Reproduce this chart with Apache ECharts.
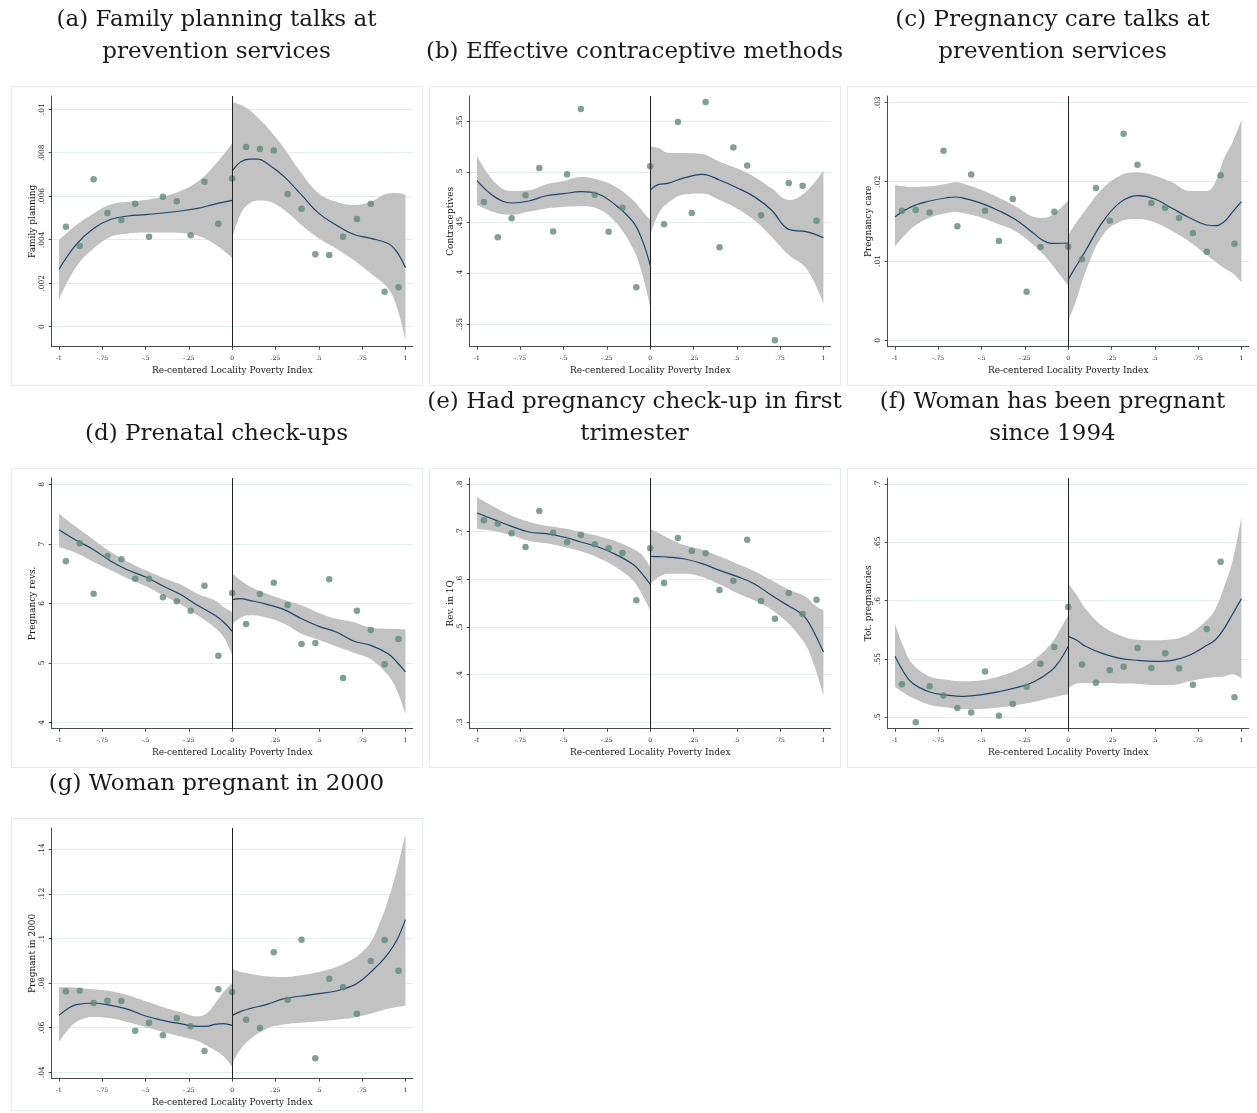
<!DOCTYPE html>
<html>
<head>
<meta charset="utf-8">
<script src="https://cdn.jsdelivr.net/npm/echarts@6/dist/echarts.min.js"></script>
<style>
  html, body { margin: 0; padding: 0; background: #ffffff; }
  #chart { width: 1257px; height: 1113px; }
</style>
</head>
<body>
<div id="chart"></div>
<script>
// ---- Shared x values -------------------------------------------------------
// centres of the locality bins (scatter)
const binX = [-0.96, -0.88, -0.80, -0.72, -0.64, -0.56, -0.48, -0.40, -0.32, -0.24, -0.16, -0.08,
  0, 0.08, 0.16, 0.24, 0.32, 0.40, 0.48, 0.56, 0.64, 0.72, 0.80, 0.88, 0.96];
const xTicks = [-1, -0.75, -0.5, -0.25, 0, 0.25, 0.5, 0.75, 1];
const xTitle = 'Re-centered Locality Poverty Index';

// ---- (a) Family planning ----------------------------------------------------
const aDots = [0.00460, 0.00371, 0.00678, 0.00523, 0.00491, 0.00566, 0.00414, 0.00598, 0.00577, 0.00420, 0.00667, 0.00474,
  0.00681, 0.00827, 0.00817, 0.00810, 0.00610, 0.00543, 0.00333, 0.00330, 0.00414, 0.00495, 0.00566, 0.00161, 0.00181];
const aLeftX = [-1, -0.9, -0.8, -0.7, -0.6, -0.5, -0.4, -0.3, -0.2, -0.1, 0];
const aLeftFit = [0.00264, 0.00379, 0.00452, 0.00494, 0.00509, 0.00515, 0.00523, 0.00532, 0.00544, 0.00564, 0.00581];
const aLeftLo = [0.00127, 0.00276, 0.00360, 0.00414, 0.00429, 0.00433, 0.00433, 0.00431, 0.00419, 0.00379, 0.00317];
const aLeftHi = [0.00399, 0.00468, 0.00521, 0.00563, 0.00575, 0.00583, 0.00598, 0.00624, 0.00667, 0.00744, 0.00844];
const aRightX = [0, 0.05, 0.1, 0.15, 0.2, 0.3, 0.4, 0.5, 0.6, 0.7, 0.8, 0.9, 0.95, 1];
const aRightFit = [0.00716, 0.00759, 0.00771, 0.00771, 0.00752, 0.00690, 0.00606, 0.00521, 0.00468, 0.00425, 0.00406, 0.00383, 0.00345, 0.00271];
const aRightLo = [0.00406, 0.00521, 0.00567, 0.00580, 0.00578, 0.00537, 0.00468, 0.00406, 0.00360, 0.00307, 0.00245, 0.00176, 0.00092, -0.00061];
const aRightHi = [0.01032, 0.01020, 0.00997, 0.00960, 0.00920, 0.00821, 0.00706, 0.00613, 0.00575, 0.00560, 0.00575, 0.00613, 0.00615, 0.00606];
const aTicks = [0, 0.002, 0.004, 0.006, 0.008, 0.01];

// ---- (b) Contraceptives -----------------------------------------------------
const bDots = [0.4704, 0.4355, 0.4543, 0.4770, 0.5039, 0.4414, 0.4977, 0.5622, 0.4776, 0.4411, 0.4648, 0.3862,
  0.5056, 0.4484, 0.5493, 0.4595, 0.5691, 0.4257, 0.5243, 0.5063, 0.4572, 0.3339, 0.4891, 0.4865, 0.4520];
const bLeftX = [-1, -0.9, -0.8, -0.7, -0.6, -0.5, -0.4, -0.3, -0.2, -0.1, -0.05, 0];
const bLeftFit = [0.4914, 0.4757, 0.4694, 0.4714, 0.4766, 0.4786, 0.4806, 0.4783, 0.4674, 0.4510, 0.4345, 0.4082];
const bLeftLo = [0.4674, 0.4602, 0.4576, 0.4609, 0.4641, 0.4655, 0.4661, 0.4635, 0.4503, 0.4247, 0.4016, 0.3671];
const bLeftHi = [0.5161, 0.4905, 0.4812, 0.4819, 0.4878, 0.4911, 0.4951, 0.4924, 0.4855, 0.4724, 0.4625, 0.4526];
const bRightX = [0, 0.05, 0.1, 0.2, 0.3, 0.4, 0.5, 0.6, 0.7, 0.8, 0.9, 1];
const bRightFit = [0.4822, 0.4878, 0.4888, 0.4944, 0.4977, 0.4921, 0.4845, 0.4757, 0.4625, 0.4434, 0.4411, 0.4352];
const bRightLo = [0.4378, 0.4592, 0.4691, 0.4780, 0.4789, 0.4724, 0.4641, 0.4526, 0.4362, 0.4181, 0.4049, 0.3704];
const bRightHi = [0.5257, 0.5234, 0.5191, 0.5188, 0.5178, 0.5102, 0.5036, 0.4954, 0.4839, 0.4724, 0.4806, 0.5020];
const bTicks = [0.35, 0.4, 0.45, 0.5, 0.55];

// ---- (c) Pregnancy care -----------------------------------------------------
const cDots = [0.01634, 0.01643, 0.01613, 0.02391, 0.01437, 0.02092, 0.01634, 0.01252, 0.01782, 0.00613, 0.01176, 0.01622,
  0.01181, 0.01021, 0.01920, 0.01508, 0.02605, 0.02214, 0.01731, 0.01672, 0.01542, 0.01353, 0.01118, 0.02080, 0.01218];
const cLeftX = [-1, -0.9, -0.8, -0.7, -0.65, -0.6, -0.5, -0.4, -0.3, -0.2, -0.15, -0.1, 0];
const cLeftFit = [0.01559, 0.01689, 0.01756, 0.01798, 0.01807, 0.01790, 0.01727, 0.01634, 0.01517, 0.01349, 0.01265, 0.01223, 0.01227];
const cLeftLo = [0.01181, 0.01420, 0.01546, 0.01605, 0.01618, 0.01601, 0.01546, 0.01462, 0.01370, 0.01202, 0.01097, 0.00971, 0.00689];
const cLeftHi = [0.01958, 0.01933, 0.01941, 0.01975, 0.01992, 0.01971, 0.01895, 0.01798, 0.01685, 0.01559, 0.01546, 0.01571, 0.01761];
const cRightX = [0, 0.05, 0.1, 0.2, 0.3, 0.4, 0.5, 0.6, 0.7, 0.8, 0.85, 0.9, 0.95, 1];
const cRightFit = [0.00769, 0.00950, 0.01130, 0.01496, 0.01739, 0.01824, 0.01782, 0.01664, 0.01546, 0.01454, 0.01445, 0.01496, 0.01622, 0.01748];
const cRightLo = [0.00244, 0.00529, 0.00866, 0.01328, 0.01496, 0.01529, 0.01487, 0.01378, 0.01244, 0.01076, 0.00990, 0.00908, 0.00845, 0.00731];
const cRightHi = [0.01328, 0.01496, 0.01643, 0.01916, 0.02076, 0.02118, 0.02076, 0.01992, 0.01882, 0.01882, 0.02000, 0.02294, 0.02504, 0.02777];
const cTicks = [0, 0.01, 0.02, 0.03];

// ---- (d) Prenatal check-ups -------------------------------------------------
const dDots = [6.706, 7.008, 6.162, 6.796, 6.739, 6.415, 6.415, 6.101, 6.034, 5.877, 6.297, 5.120,
  6.174, 5.653, 6.157, 6.347, 5.972, 5.317, 5.333, 6.403, 4.745, 5.877, 5.552, 4.975, 5.401];
const dLeftX = [-1, -0.9, -0.8, -0.7, -0.6, -0.5, -0.4, -0.3, -0.2, -0.1, -0.05, 0];
const dLeftFit = [7.238, 7.059, 6.902, 6.706, 6.555, 6.443, 6.291, 6.151, 5.966, 5.798, 5.686, 5.529];
const dLeftLo = [6.947, 6.846, 6.695, 6.555, 6.415, 6.291, 6.134, 5.983, 5.798, 5.591, 5.434, 5.126];
const dLeftHi = [7.507, 7.283, 7.070, 6.863, 6.695, 6.555, 6.431, 6.319, 6.162, 6.050, 5.938, 5.854];
const dRightX = [0, 0.05, 0.1, 0.2, 0.3, 0.4, 0.5, 0.6, 0.7, 0.8, 0.9, 0.95, 1];
const dRightFit = [6.062, 6.078, 6.050, 5.983, 5.894, 5.742, 5.613, 5.518, 5.367, 5.294, 5.154, 5.014, 4.846];
const dRightLo = [5.658, 5.759, 5.798, 5.759, 5.658, 5.490, 5.389, 5.277, 5.171, 5.059, 4.790, 4.538, 4.146];
const dRightHi = [6.499, 6.387, 6.286, 6.162, 6.062, 5.966, 5.838, 5.742, 5.686, 5.591, 5.574, 5.569, 5.563];
const dTicks = [4, 5, 6, 7, 8];

// ---- (e) First-trimester check-up -------------------------------------------
const eDots = [0.7239, 0.7169, 0.6966, 0.6679, 0.7436, 0.6980, 0.6777, 0.6931, 0.6735, 0.6651, 0.6553, 0.5559,
  0.6651, 0.5923, 0.6868, 0.6595, 0.6546, 0.5776, 0.5972, 0.6833, 0.5545, 0.5174, 0.5713, 0.5272, 0.5573];
const eLeftX = [-1, -0.9, -0.8, -0.7, -0.6, -0.5, -0.4, -0.3, -0.2, -0.1, -0.05, 0];
const eLeftFit = [0.7394, 0.7254, 0.7113, 0.6994, 0.6959, 0.6889, 0.6784, 0.6679, 0.6525, 0.6315, 0.6133, 0.5895];
const eLeftLo = [0.7064, 0.7015, 0.6924, 0.6805, 0.6756, 0.6679, 0.6588, 0.6455, 0.6259, 0.5979, 0.5699, 0.5349];
const eLeftHi = [0.7730, 0.7520, 0.7338, 0.7211, 0.7127, 0.7071, 0.6994, 0.6910, 0.6798, 0.6644, 0.6525, 0.6259];
const eRightX = [0, 0.05, 0.1, 0.2, 0.3, 0.4, 0.5, 0.6, 0.7, 0.8, 0.85, 0.9, 0.95, 1];
const eRightFit = [0.6483, 0.6476, 0.6469, 0.6427, 0.6329, 0.6189, 0.6063, 0.5909, 0.5664, 0.5440, 0.5335, 0.5174, 0.4859, 0.4473];
const eRightLo = [0.5895, 0.6049, 0.6119, 0.6119, 0.6049, 0.5895, 0.5713, 0.5559, 0.5363, 0.5069, 0.4859, 0.4613, 0.4158, 0.3563];
const eRightHi = [0.7064, 0.6973, 0.6875, 0.6714, 0.6623, 0.6483, 0.6329, 0.6175, 0.5979, 0.5783, 0.5713, 0.5629, 0.5454, 0.5349];
const eTicks = [0.3, 0.4, 0.5, 0.6, 0.7, 0.8];

// ---- (f) Pregnant since 1994 ------------------------------------------------
const fDots = [0.5282, 0.4956, 0.5265, 0.5185, 0.5079, 0.5039, 0.5391, 0.5013, 0.5113, 0.5262, 0.5459, 0.5602,
  0.5946, 0.5453, 0.5296, 0.5402, 0.5433, 0.5594, 0.5422, 0.5548, 0.5419, 0.5279, 0.5757, 0.6335, 0.5170];
const fLeftX = [-1, -0.95, -0.9, -0.8, -0.7, -0.6, -0.5, -0.4, -0.3, -0.2, -0.1, -0.05, 0];
const fLeftFit = [0.5522, 0.5388, 0.5293, 0.5216, 0.5190, 0.5179, 0.5193, 0.5219, 0.5253, 0.5302, 0.5396, 0.5482, 0.5608];
const fLeftLo = [0.5259, 0.5210, 0.5167, 0.5107, 0.5082, 0.5067, 0.5070, 0.5082, 0.5104, 0.5130, 0.5167, 0.5182, 0.5196];
const fLeftHi = [0.5803, 0.5602, 0.5459, 0.5350, 0.5322, 0.5308, 0.5316, 0.5350, 0.5402, 0.5488, 0.5631, 0.5745, 0.5874];
const fRightX = [0, 0.05, 0.1, 0.2, 0.3, 0.4, 0.5, 0.6, 0.7, 0.8, 0.85, 0.9, 0.95, 1];
const fRightFit = [0.5694, 0.5660, 0.5608, 0.5545, 0.5505, 0.5488, 0.5479, 0.5488, 0.5531, 0.5617, 0.5665, 0.5760, 0.5888, 0.6017];
const fRightLo = [0.5245, 0.5288, 0.5293, 0.5293, 0.5288, 0.5285, 0.5276, 0.5276, 0.5308, 0.5336, 0.5345, 0.5350, 0.5368, 0.5330];
const fRightHi = [0.6152, 0.6046, 0.5931, 0.5780, 0.5702, 0.5665, 0.5660, 0.5668, 0.5717, 0.5831, 0.5931, 0.6117, 0.6346, 0.6718];
const fTicks = [0.5, 0.55, 0.6, 0.65, 0.7];

// ---- (g) Pregnant in 2000 ---------------------------------------------------
const gDots = [0.07626, 0.07656, 0.07103, 0.07208, 0.07193, 0.05862, 0.06221, 0.05653, 0.06416, 0.06057, 0.04951, 0.07716,
  0.07596, 0.06356, 0.05982, 0.09375, 0.07253, 0.09943, 0.04622, 0.08194, 0.07806, 0.06625, 0.08987, 0.09928, 0.08553];
const gLeftX = [-1, -0.95, -0.9, -0.8, -0.7, -0.6, -0.5, -0.4, -0.3, -0.2, -0.15, -0.1, -0.05, 0];
const gLeftFit = [0.06550, 0.06849, 0.07028, 0.07103, 0.06999, 0.06819, 0.06520, 0.06326, 0.06176, 0.06057, 0.06057, 0.06146, 0.06176, 0.06102];
const gLeftLo = [0.05354, 0.05877, 0.06251, 0.06475, 0.06416, 0.06236, 0.06027, 0.05803, 0.05608, 0.05399, 0.05205, 0.04981, 0.04711, 0.04233];
const gLeftHi = [0.07821, 0.07806, 0.07791, 0.07716, 0.07626, 0.07447, 0.07178, 0.06924, 0.06700, 0.06505, 0.06625, 0.07073, 0.07596, 0.08000];
const gRightX = [0, 0.05, 0.1, 0.2, 0.3, 0.4, 0.5, 0.6, 0.7, 0.75, 0.8, 0.85, 0.9, 0.95, 1];
const gRightFit = [0.06550, 0.06729, 0.06849, 0.07043, 0.07297, 0.07417, 0.07522, 0.07641, 0.07895, 0.08149, 0.08493, 0.08867, 0.09315, 0.09913, 0.10840];
const gRightLo = [0.04383, 0.05055, 0.05459, 0.05952, 0.06146, 0.06221, 0.06281, 0.06356, 0.06445, 0.06535, 0.06625, 0.06744, 0.06849, 0.06924, 0.06984];
const gRightHi = [0.08643, 0.08493, 0.08419, 0.08299, 0.08269, 0.08344, 0.08493, 0.08717, 0.09091, 0.09390, 0.09839, 0.10661, 0.11707, 0.13052, 0.14697];
const gTicks = [0.04, 0.06, 0.08, 0.1, 0.12, 0.14];

// ---- Panel descriptions ------------------------------------------------------
const panels = [
  { title: '(a) Family planning talks at\nprevention services', yName: 'Family planning', col: 0, row: 0,
    yMin: -0.00092, yMax: 0.01061, ticks: aTicks, dots: aDots,
    L: [aLeftX, aLeftFit, aLeftLo, aLeftHi], R: [aRightX, aRightFit, aRightLo, aRightHi] },
  { title: '(b) Effective contraceptive methods', yName: 'Contraceptives', col: 1, row: 0,
    yMin: 0.3276, yMax: 0.575, ticks: bTicks, dots: bDots,
    L: [bLeftX, bLeftFit, bLeftLo, bLeftHi], R: [bRightX, bRightFit, bRightLo, bRightHi] },
  { title: '(c) Pregnancy care talks at\nprevention services', yName: 'Pregnancy care', col: 2, row: 0,
    yMin: -0.0008, yMax: 0.0308, ticks: cTicks, dots: cDots,
    L: [cLeftX, cLeftFit, cLeftLo, cLeftHi], R: [cRightX, cRightFit, cRightLo, cRightHi] },
  { title: '(d) Prenatal check-ups', yName: 'Pregnancy revs.', col: 0, row: 1,
    yMin: 3.893, yMax: 8.106, ticks: dTicks, dots: dDots,
    L: [dLeftX, dLeftFit, dLeftLo, dLeftHi], R: [dRightX, dRightFit, dRightLo, dRightHi] },
  { title: '(e) Had pregnancy check-up in first\ntrimester', yName: 'Rev. in 1Q', col: 1, row: 1,
    yMin: 0.2863, yMax: 0.8129, ticks: eTicks, dots: eDots,
    L: [eLeftX, eLeftFit, eLeftLo, eLeftHi], R: [eRightX, eRightFit, eRightLo, eRightHi] },
  { title: '(f) Woman has been pregnant\nsince 1994', yName: 'Tot. pregnancies', col: 2, row: 1,
    yMin: 0.4901, yMax: 0.7053, ticks: fTicks, dots: fDots,
    L: [fLeftX, fLeftFit, fLeftLo, fLeftHi], R: [fRightX, fRightFit, fRightLo, fRightHi] },
  { title: '(g) Woman pregnant in 2000', yName: 'Pregnant in 2000', col: 0, row: 2,
    yMin: 0.0371, yMax: 0.1495, ticks: gTicks, dots: gDots,
    L: [gLeftX, gLeftFit, gLeftLo, gLeftHi], R: [gRightX, gRightFit, gRightLo, gRightHi] }
];

// ---- Layout / style ----------------------------------------------------------
const FONT = 'DejaVu Serif';
const colAxisX = [51.7, 469.7, 887.7];     // y-axis position of each column
const rowTop = [96, 478, 828];             // top of each plot region
const plotW = 361, plotH = 250.7;
const boxX = [11, 429, 847], boxW = 411;
const boxY = [86, 468, 818], boxH = [299, 299, 292];
const DOT = '#5e8b7a', FIT = '#1a476f', BAND = '#c2c2c2', AXIS = '#4a4a4a', GRIDC = '#e3ecef', TXT = '#1a1a1a';

// Stata-style number labels: ".25", "-.5", "0"
function stataNum(v) {
  let s = String(+v.toFixed(6));
  return s.replace(/^0\./, '.').replace(/^-0\./, '-.');
}

const grids = [], xAxes = [], yAxes = [], series = [], graphics = [];

panels.forEach(function (p, i) {
  grids.push({ left: colAxisX[p.col], top: rowTop[p.row], width: plotW, height: plotH, containLabel: false });

  xAxes.push({
    type: 'value', gridIndex: i, min: -1.042, max: 1.042,
    name: xTitle, nameLocation: 'middle', nameGap: 19,
    nameTextStyle: { fontFamily: FONT, fontSize: 9, color: TXT },
    axisLine: { show: true, onZero: false, lineStyle: { color: AXIS, width: 1 } },
    axisTick: { show: true, length: 3, customValues: xTicks, lineStyle: { color: AXIS } },
    axisLabel: { customValues: xTicks, formatter: stataNum, fontFamily: FONT, fontSize: 6, color: TXT, margin: 9 },
    splitLine: { show: false }
  });

  yAxes.push({
    type: 'value', gridIndex: i, min: p.yMin, max: p.yMax,
    name: p.yName, nameLocation: 'middle', nameGap: 15, nameRotate: 90,
    nameTextStyle: { fontFamily: FONT, fontSize: 9, color: TXT },
    axisLine: { show: true, onZero: false, lineStyle: { color: AXIS, width: 1 } },
    axisTick: { show: true, length: 3, customValues: p.ticks, lineStyle: { color: AXIS } },
    axisLabel: { customValues: p.ticks, formatter: stataNum, rotate: 90, fontFamily: FONT, fontSize: 7.5, color: TXT, margin: 6 },
    splitLine: { show: true, lineStyle: { color: GRIDC, width: 1 } }
  });

  // confidence band + local fit on each side of the cutoff
  [['L', p.L], ['R', p.R]].forEach(function (side) {
    const xs = side[1][0], fit = side[1][1], lo = side[1][2], hi = side[1][3];
    const stackId = 'band' + i + side[0];
    // value first, x second, so the stack is taken on the y values
    series.push({
      type: 'line', xAxisIndex: i, yAxisIndex: i, stack: stackId, stackStrategy: 'all',
      encode: { x: 1, y: 0 }, smooth: 0.4, symbol: 'none', silent: true, z: 1,
      lineStyle: { width: 0, opacity: 0 },
      data: lo.map(function (v, k) { return [v, xs[k]]; })
    });
    series.push({
      type: 'line', xAxisIndex: i, yAxisIndex: i, stack: stackId, stackStrategy: 'all',
      encode: { x: 1, y: 0 }, smooth: 0.4, symbol: 'none', silent: true, z: 1,
      lineStyle: { width: 0, opacity: 0 },
      areaStyle: { color: BAND, opacity: 1 },
      data: hi.map(function (v, k) { return [v - lo[k], xs[k]]; })
    });
    series.push({
      type: 'line', xAxisIndex: i, yAxisIndex: i, smooth: 0.4, symbol: 'none', silent: true, z: 3,
      lineStyle: { color: FIT, width: 1.2 },
      data: fit.map(function (v, k) { return [xs[k], v]; })
    });
  });

  series.push({
    type: 'scatter', xAxisIndex: i, yAxisIndex: i, symbol: 'circle', symbolSize: 6.5, z: 4, silent: true,
    itemStyle: { color: DOT },
    data: p.dots.map(function (v, k) { return [binX[k], v]; }),
    markLine: {
      silent: true, symbol: ['none', 'none'], label: { show: false }, animation: false,
      lineStyle: { color: '#222222', width: 1, type: 'solid' },
      data: [{ xAxis: 0 }]
    }
  });

  // panel frame and caption
  graphics.push({
    type: 'rect', silent: true, z: -10,
    shape: { x: boxX[p.col] + 0.5, y: boxY[p.row] + 0.5, width: boxW, height: boxH[p.row] },
    style: { fill: 'none', stroke: '#e6ebed', lineWidth: 1 }
  });
  const lines = p.title.split('\n').length;
  graphics.push({
    type: 'text', silent: true,
    x: boxX[p.col] + boxW / 2,
    y: boxY[p.row] - 34 - (lines - 1) * 16,
    style: {
      text: p.title, fontFamily: FONT, fontSize: 23, fill: TXT,
      align: 'center', verticalAlign: 'middle', lineHeight: 32
    }
  });
});

const chart = echarts.init(document.getElementById('chart'), null, { renderer: 'canvas' });
chart.setOption({
  animation: false,
  backgroundColor: '#ffffff',
  grid: grids,
  xAxis: xAxes,
  yAxis: yAxes,
  series: series,
  graphic: graphics
});
</script>
</body>
</html>
